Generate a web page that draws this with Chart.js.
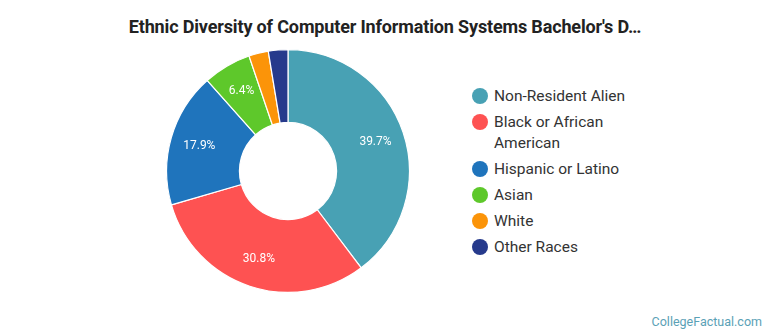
<!DOCTYPE html>
<html>
<head>
<meta charset="utf-8">
<script src="https://cdn.jsdelivr.net/npm/chart.js@4"></script>
<style>
  html, body { margin:0; padding:0; background:#fff; }
  body { width:770px; height:335px; position:relative; overflow:hidden; font-family:Roboto, "Noto Sans", sans-serif; }
  .ttl { position:absolute; left:0; top:16px; width:770px; text-align:center; font-weight:700; font-size:18px; color:#222; letter-spacing:-0.15px; }
  .pie { position:absolute; left:166px; top:49px; width:244px; height:244px; }
  .lg { position:absolute; left:472px; top:86px; width:170px; }
  .lg-row { position:relative; padding-left:22px; font-size:15.5px; line-height:21px; color:#333; margin-bottom:5px; }
  .lg-row i { position:absolute; left:0; top:2px; width:16px; height:16px; border-radius:50%; }
  .foot { position:absolute; right:8px; bottom:6px; font-size:12.5px; color:#5aa1b6; }
</style>
</head>
<body>
<div class="ttl">Ethnic Diversity of Computer Information Systems Bachelor's D…</div>
<div class="pie"><canvas id="ch"></canvas></div>
<div class="lg" id="lg"></div>
<div class="foot">CollegeFactual.com</div>
<script>
// data
const LABELS = ['Non-Resident Alien', 'Black or African American', 'Hispanic or Latino', 'Asian', 'White', 'Other Races'];
const SHARES = [39.7, 30.8, 17.9, 6.4, 2.6, 2.6];
const COLORS = ['#48a1b4', '#fe5252', '#1f74bc', '#5ec82b', '#fb9409', '#263a8c'];

// html legend (wraps like the original)
const lg = document.getElementById('lg');
LABELS.forEach((l, i) => {
  const r = document.createElement('div');
  r.className = 'lg-row';
  r.innerHTML = `<i style="background:${COLORS[i]}"></i>${l}`;
  lg.append(r);
});

// percent labels inside slices
const sliceLabels = {
  id: 'sliceLabels',
  afterDatasetsDraw(chart) {
    const { ctx } = chart;
    const meta = chart.getDatasetMeta(0);
    ctx.save();
    ctx.font = '12px Roboto, sans-serif';
    ctx.fillStyle = '#fff';
    ctx.textAlign = 'center';
    ctx.textBaseline = 'middle';
    meta.data.forEach((arc, i) => {
      if (SHARES[i] < 5) return;
      const { x, y, startAngle, endAngle, outerRadius } = arc.getProps(['x','y','startAngle','endAngle','outerRadius'], true);
      const a = (startAngle + endAngle) / 2, rr = outerRadius * 0.76;
      ctx.fillText(SHARES[i].toFixed(1) + '%', x + Math.cos(a) * rr, y + Math.sin(a) * rr);
    });
    ctx.restore();
  }
};

new Chart(document.getElementById('ch'), {
  type: 'doughnut',
  data: { labels: LABELS, datasets: [{ data: SHARES, backgroundColor: COLORS, borderColor:'#fff', borderWidth:1.2 }] },
  options: {
    responsive:true, maintainAspectRatio:false, animation:false, cutout:'40%',
    plugins:{ legend:{ display:false }, tooltip:{ enabled:false } }
  },
  plugins: [sliceLabels]
});
</script>
</body>
</html>
